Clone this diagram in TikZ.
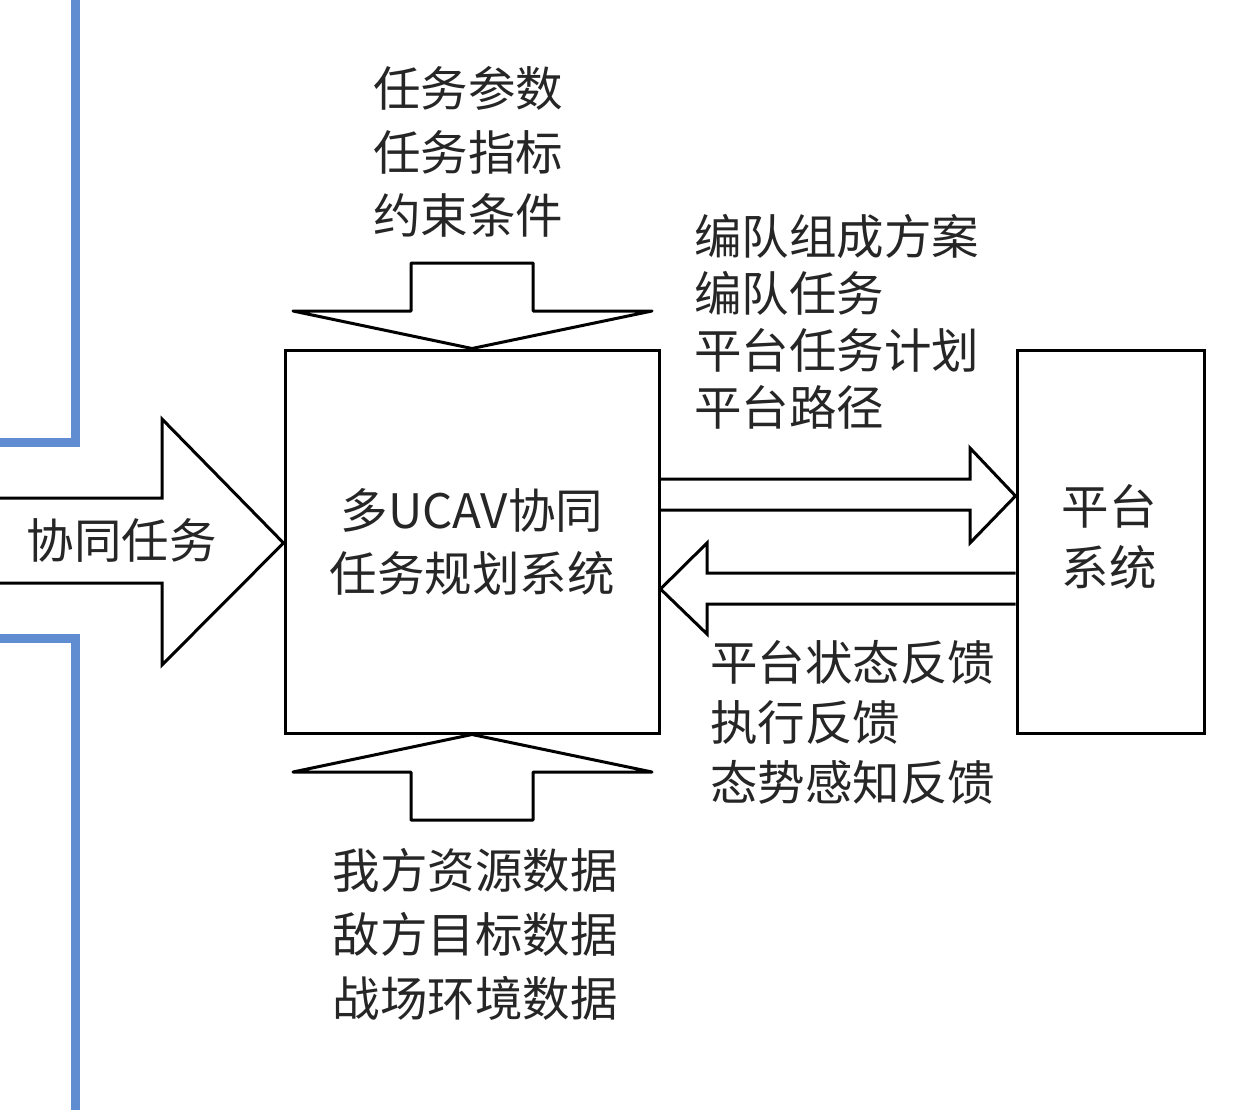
\documentclass[tikz,border=0pt]{standalone}
\usepackage{fontspec}
\newfontfamily\cjk{Noto Sans CJK SC}
\definecolor{frameblue}{RGB}{96,141,210}
\begin{document}
\begin{tikzpicture}[x=1pt,y=-1pt,
  blk/.style={draw=black,line width=3pt,line join=miter},
  flat/.style={draw=black,line width=3pt,line join=round},
  bluel/.style={draw=frameblue,line width=9pt},
  lbl/.style={inner sep=0pt,text=black!85,font=\cjk\fontsize{47.5}{#1}\selectfont},
  lbl/.default=63]
\useasboundingbox (0,0) rectangle (1234,1110);
% blue frame lines
\draw[bluel] (75,0) -- (75,442) -- (0,442);
\draw[bluel] (0,638) -- (75,638) -- (75,1110);
% main box and platform box
\node[blk,minimum width=374pt,minimum height=383pt,inner sep=0pt] (main) at (472,541.5) {};
\node[blk,minimum width=187pt,minimum height=383pt,inner sep=0pt] (plat) at (1110.5,541.5) {};
% left input arrow
\draw[blk] (0,498) -- (162,498) -- (162,419) -- (main.west |- 0,543) -- (162,665) -- (162,583) -- (0,583);
% top arrow
\draw[flat] (411,263) -- (533,263) -- (533,311) -- (652,311) -- (main.north) -- (293,311) -- (411,311) -- cycle;
% bottom arrow
\draw[flat] (411,820) -- (533,820) -- (533,772) -- (652,772) -- (main.south) -- (293,772) -- (411,772) -- cycle;
% right arrow to platform
\draw[blk] (main.east |- 0,479) -- (970,479) -- (970,448) -- (plat.west |- 0,496) -- (970,543) -- (970,510) -- (main.east |- 0,510);
% feedback arrow
\draw[blk] (plat.west |- 0,573) -- (707,573) -- (707,543) -- (main.east |- 0,589) -- (707,634) -- (707,604) -- (plat.west |- 0,604);
% texts
\node[lbl,align=center] (maintxt) at (main.center) {多UCAV协同\\任务规划系统};
\node[lbl=61,align=center] (plattxt) at (1109,537) {平台\\系统};
\node[lbl] (coop) at (122,540) {协同任务};
\node[lbl=63.5,align=center] (toptxt) at (468,152) {任务参数\\任务指标\\约束条件};
\node[lbl=57,align=left,anchor=west] (rtop) at (694,322) {编队组成方案\\编队任务\\平台任务计划\\平台路径};
\node[lbl=60,align=left,anchor=west] (rbot) at (710,722) {平台状态反馈\\执行反馈\\态势感知反馈};
\node[lbl=64,align=center] (bottxt) at (475,934) {我方资源数据\\敌方目标数据\\战场环境数据};
\end{tikzpicture}
\end{document}
